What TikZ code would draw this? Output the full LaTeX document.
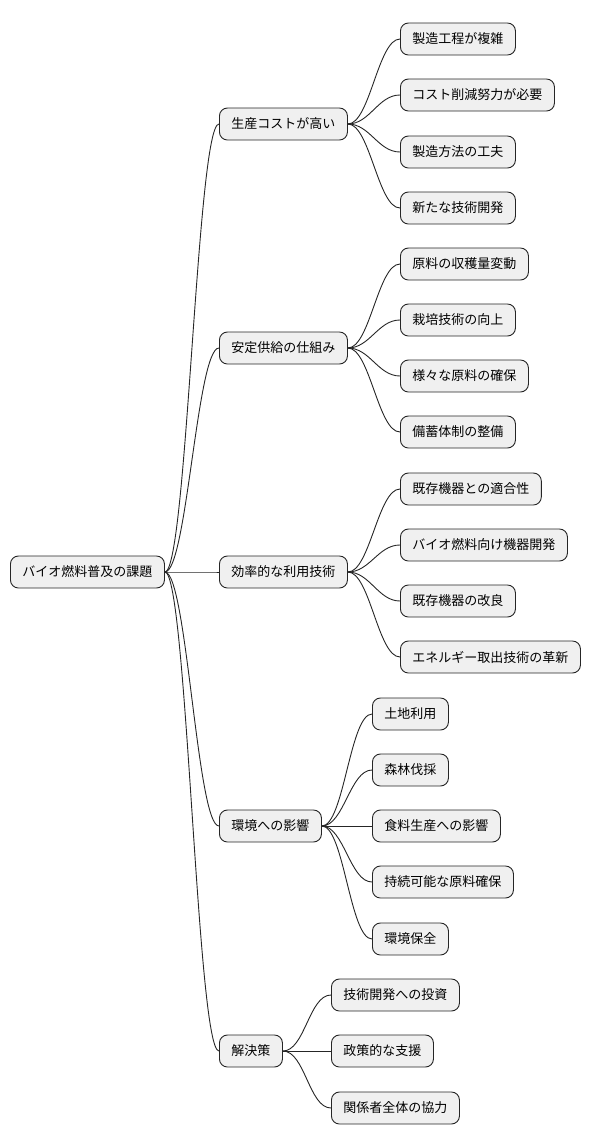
\documentclass[tikz,border=0pt]{standalone}
\usepackage{fontspec}
\setmainfont{Noto Sans CJK JP}
\begin{document}
\begin{tikzpicture}[x=1pt,y=-1pt,
  box/.style={draw=black!85,fill=black!6,rounded corners=8pt,line width=0.9pt,anchor=west,
    minimum height=32pt,inner xsep=12pt,inner ysep=0pt,font=\fontsize{13}{15}\selectfont},
  con/.style={draw=black!85,line width=0.9pt}]
\useasboundingbox (0,0) rectangle (600,1146);
\node[box] (r) at (10,572) {バイオ燃料普及の課題};
\node[box] (a) at (219,124) {生産コストが高い};
\node[box] (b) at (219,348) {安定供給の仕組み};
\node[box] (c) at (219,572) {効率的な利用技術};
\node[box] (d) at (219,826) {環境への影響};
\node[box] (e) at (219,1051) {解決策};
\node[box] (a1) at (400,39) {製造工程が複雑};
\node[box] (a2) at (400,95) {コスト削減努力が必要};
\node[box] (a3) at (400,152) {製造方法の工夫};
\node[box] (a4) at (400,208) {新たな技術開発};
\node[box] (b1) at (400,264) {原料の収穫量変動};
\node[box] (b2) at (400,320) {栽培技術の向上};
\node[box] (b3) at (400,376) {様々な原料の確保};
\node[box] (b4) at (400,432) {備蓄体制の整備};
\node[box] (c1) at (400,489) {既存機器との適合性};
\node[box] (c2) at (400,545) {バイオ燃料向け機器開発};
\node[box] (c3) at (400,601) {既存機器の改良};
\node[box] (c4) at (400,657) {エネルギー取出技術の革新};
\node[box] (d1) at (372,714) {土地利用};
\node[box] (d2) at (372,770) {森林伐採};
\node[box] (d3) at (372,826) {食料生産への影響};
\node[box] (d4) at (372,882) {持続可能な原料確保};
\node[box] (d5) at (372,939) {環境保全};
\node[box] (e1) at (331,995) {技術開発への投資};
\node[box] (e2) at (331,1051) {政策的な支援};
\node[box] (e3) at (331,1108) {関係者全体の協力};
\foreach \p/\cs in {r/{a,b,c,d,e},a/{a1,a2,a3,a4},b/{b1,b2,b3,b4},c/{c1,c2,c3,c4},d/{d1,d2,d3,d4,d5},e/{e1,e2,e3}}{
  \foreach \c in \cs {
    \draw[con] (\p.east) .. controls +(22,0) and +(-22,0) .. (\c.west);
  }
}
\end{tikzpicture}
\end{document}
